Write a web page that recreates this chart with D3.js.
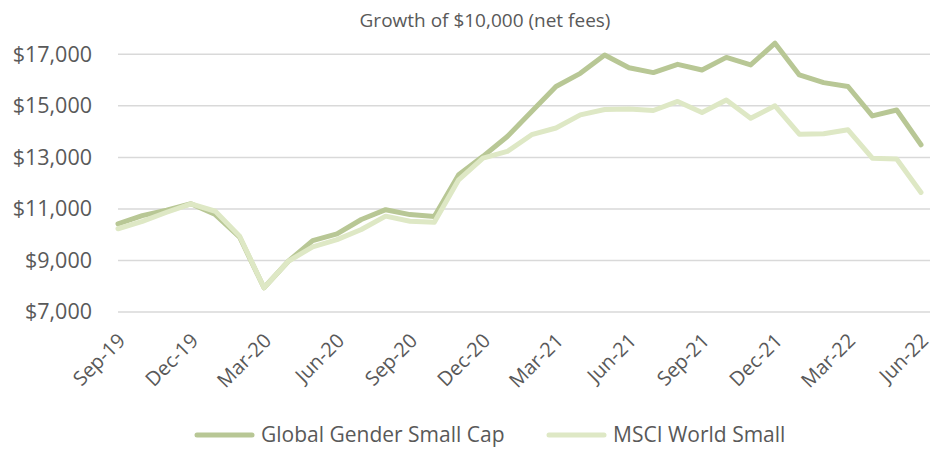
<!DOCTYPE html>
<html>
<head>
<meta charset="utf-8">
<script src="https://cdn.jsdelivr.net/npm/d3@7"></script>
<style>
  body { margin: 0; background: #fff; }
  svg { font-family: 'Open Sans', sans-serif; }
</style>
</head>
<body>
<div id="chart"></div>
<script>
// months Sep-19 .. Jun-22
var months = ['Sep-19','Oct-19','Nov-19','Dec-19','Jan-20','Feb-20','Mar-20','Apr-20','May-20','Jun-20',
              'Jul-20','Aug-20','Sep-20','Oct-20','Nov-20','Dec-20','Jan-21','Feb-21','Mar-21','Apr-21',
              'May-21','Jun-21','Jul-21','Aug-21','Sep-21','Oct-21','Nov-21','Dec-21','Jan-22','Feb-22',
              'Mar-22','Apr-22','May-22','Jun-22'];

var genderValues = [10420, 10740, 10950, 11200, 10780, 9900, 7940, 8970, 9770, 10030,
                    10590, 10970, 10780, 10710, 12330, 13040, 13810, 14780, 15750, 16260,
                    16970, 16480, 16290, 16610, 16390, 16880, 16590, 17430, 16200, 15900,
                    15750, 14610, 14840, 13490];

var msciValues = [10230, 10520, 10870, 11200, 10910, 9940, 7940, 8970, 9530, 9810,
                  10200, 10720, 10520, 10480, 12130, 12970, 13230, 13880, 14140, 14650,
                  14860, 14880, 14820, 15170, 14740, 15230, 14520, 15000, 13900, 13920,
                  14070, 12970, 12940, 11640];

var seriesNames = ['Global Gender Small Cap', 'MSCI World Small'];
var seriesColors = ['#b8c795', '#dee8c5'];
var yTicks = [7000, 9000, 11000, 13000, 15000, 17000];

var width = 935, height = 449;
var left = 118, right = 930, plotRight = 921;

var svg = d3.select('#chart').append('svg')
    .attr('width', width)
    .attr('height', height);

var x = d3.scalePoint()
    .domain(months)
    .range([left, plotRight]);

var y = d3.scaleLinear()
    .domain([7000, 17000])
    .range([312, 54.3]);

// title
svg.append('text')
    .attr('x', 485)
    .attr('y', 27)
    .attr('text-anchor', 'middle')
    .attr('font-size', 19)
    .attr('fill', '#595959')
    .text('Growth of $10,000 (net fees)');

// gridlines
svg.append('g')
    .selectAll('line')
    .data(yTicks)
    .enter()
    .append('line')
    .attr('x1', left)
    .attr('x2', right)
    .attr('y1', d => y(d))
    .attr('y2', d => y(d))
    .attr('stroke', '#d9d9d9')
    .attr('stroke-width', 1.5);

// y axis labels
var yaxis = d3.axisLeft(y)
    .tickValues(yTicks)
    .tickSize(0)
    .tickPadding(0)
    .tickFormat(d => '$' + d3.format(',')(d));

svg.append('g')
    .attr('transform', 'translate(92,0)')
    .call(yaxis)
    .call(g => g.select('.domain').remove())
    .selectAll('text')
    .attr('font-family', 'Open Sans, sans-serif')
    .attr('font-size', 21.5)
    .attr('fill', '#595959');

// x axis labels, every 3rd month
var xaxis = d3.axisBottom(x)
    .tickValues(months.filter((m, i) => i % 3 == 0))
    .tickSize(0)
    .tickPadding(0);

svg.append('g')
    .attr('transform', 'translate(0,322)')
    .call(xaxis)
    .call(g => g.select('.domain').remove())
    .selectAll('text')
    .attr('font-family', 'Open Sans, sans-serif')
    .attr('font-size', 20)
    .attr('fill', '#595959')
    .attr('text-anchor', 'end')
    .attr('dy', '0')
    .attr('transform', 'translate(8,20) rotate(-45)');

// lines (light series drawn on top)
var line = d3.line()
    .x((d, i) => x(months[i]))
    .y(d => y(d));

var series = [genderValues, msciValues];

svg.append('g')
    .selectAll('path')
    .data(series)
    .enter()
    .append('path')
    .attr('d', d => line(d))
    .attr('fill', 'none')
    .attr('stroke', (d, i) => seriesColors[i])
    .attr('stroke-width', 5)
    .attr('stroke-linejoin', 'round')
    .attr('stroke-linecap', 'round');

// legend
var legendX = [197, 549];
var legend = svg.append('g')
    .selectAll('.legend')
    .data(seriesNames)
    .enter()
    .append('g');

legend.append('line')
    .attr('x1', (d, i) => legendX[i])
    .attr('x2', (d, i) => legendX[i] + 55)
    .attr('y1', 435)
    .attr('y2', 435)
    .attr('stroke', (d, i) => seriesColors[i])
    .attr('stroke-width', 5)
    .attr('stroke-linecap', 'round');

legend.append('text')
    .attr('x', (d, i) => legendX[i] + 64)
    .attr('y', 442)
    .attr('font-size', 21)
    .attr('fill', '#595959')
    .text(d => d);
</script>
</body>
</html>
